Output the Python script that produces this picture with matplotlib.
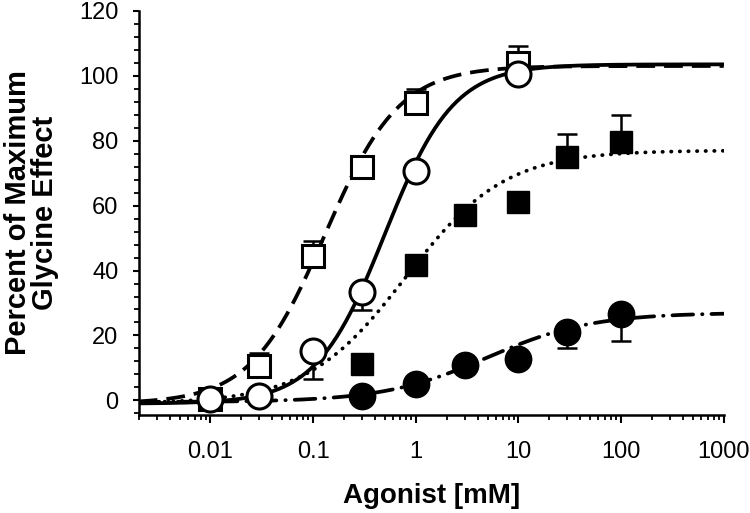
import numpy as np
import matplotlib
matplotlib.use('Agg')
import matplotlib.pyplot as plt
from matplotlib.ticker import LogLocator, FixedLocator, FuncFormatter, MultipleLocator

plt.rcParams['font.family'] = ['Liberation Sans', 'DejaVu Sans']

# data (concentration in mM, percent of max glycine effect)
x_open_sq = [0.01, 0.03, 0.1, 0.3, 1, 10]
y_open_sq = [0.5, 10.5, 44.5, 72, 91.5, 104]
err_open_sq = [0, 4, 4.5, 1.5, 4.5, 5]            # upper bars only

x_open_ci = [0.01, 0.03, 0.1, 0.3, 1, 10]
y_open_ci = [0.5, 1.5, 15.2, 33.5, 70.5, 100.5]
err_open_ci = [0, 0, 8.7, 5.8, 0, 0]              # lower bars only

x_fill_sq = [0.3, 1, 3, 10, 30, 100]
y_fill_sq = [11.2, 41.8, 57, 61, 75, 79.5]
err_fill_sq = [0, 0, 0, 0, 7, 8.5]                # upper bars only

x_fill_ci = [0.3, 1, 3, 10, 30, 100]
y_fill_ci = [1.5, 5.2, 10.8, 12.9, 21, 26.5]
err_fill_ci = [0, 0, 0, 0, 5, 8.3]                # lower bars only

# fitted Hill curves: bottom, top, EC50 (mM), slope
fit_open_sq = [-1.0, 103.0, 0.13, 1.2]
fit_open_ci = [-1.0, 103.5, 0.5, 1.3]
fit_fill_sq = [-1.0, 77.0, 0.8, 0.9]
fit_fill_ci = [-0.5, 27.0, 5.0, 0.85]

x_ticks = [0.01, 0.1, 1, 10, 100, 1000]
y_ticks = [0, 20, 40, 60, 80, 100, 120]


def hill(x, p):
    bot, top, ec50, n = p
    return bot + (top - bot) / (1 + (ec50 / x) ** n)


fig = plt.figure(figsize=(7.5, 5.13), dpi=100)
ax = fig.add_axes([0.185, 0.191, 0.780, 0.788])

xx = np.logspace(np.log10(0.002), 3, 400)
lw = 2.7
ax.plot(xx, hill(xx, fit_fill_ci), color='black', lw=lw,
        dashes=(5.5, 2.4, 0.1, 2.4), dash_capstyle='round', zorder=2)
ax.plot(xx, hill(xx, fit_fill_sq), color='black', lw=lw,
        dashes=(0.1, 2.2), dash_capstyle='round', zorder=2)
ax.plot(xx, hill(xx, fit_open_sq), color='black', lw=lw,
        dashes=(5, 2.4), zorder=2)
ax.plot(xx, hill(xx, fit_open_ci), color='black', lw=lw, zorder=2)

eb = dict(fmt='none', ecolor='black', elinewidth=1.8, capsize=7, capthick=1.8, zorder=3)
ax.errorbar(x_open_sq, y_open_sq, yerr=[np.zeros(6), err_open_sq], **eb)
ax.errorbar(x_open_ci, y_open_ci, yerr=[err_open_ci, np.zeros(6)], **eb)
ax.errorbar(x_fill_sq, y_fill_sq, yerr=[np.zeros(6), err_fill_sq], **eb)
ax.errorbar(x_fill_ci, y_fill_ci, yerr=[err_fill_ci, np.zeros(6)], **eb)

ax.plot(x_open_sq, y_open_sq, 's', ms=16, mfc='white', mec='black', mew=2.2, zorder=4)
ax.plot(x_open_ci, y_open_ci, 'o', ms=18, mfc='white', mec='black', mew=2.2, zorder=5)
ax.plot(x_fill_sq, y_fill_sq, 's', ms=16.5, mfc='black', mec='black', mew=1, zorder=4)
ax.plot(x_fill_ci, y_fill_ci, 'o', ms=19, mfc='black', mec='black', mew=1, zorder=4)

ax.set_xscale('log')
ax.set_xlim(0.002, 1000)
ax.set_ylim(-4.5, 120)

ax.xaxis.set_major_locator(FixedLocator(x_ticks))
ax.xaxis.set_minor_locator(LogLocator(base=10, subs=np.arange(2, 10), numticks=20))
ax.xaxis.set_major_formatter(FuncFormatter(lambda v, pos: '%g' % v))
ax.set_yticks(y_ticks)
ax.yaxis.set_minor_locator(MultipleLocator(4))

for side in ['top', 'right']:
    ax.spines[side].set_visible(False)
for side in ['left', 'bottom']:
    ax.spines[side].set_linewidth(1.8)

ax.tick_params(axis='both', which='major', direction='out', width=1.5, labelsize=17)
ax.tick_params(axis='x', which='major', length=6, pad=13)
ax.tick_params(axis='y', which='major', length=4, pad=10.5)
ax.tick_params(axis='both', which='minor', direction='out', width=1.3, length=3.5)

ax.set_xlabel('Agonist [mM]', fontsize=20, fontweight='bold', labelpad=14)
ax.set_ylabel('Percent of Maximum\nGlycine Effect', fontsize=21, fontweight='bold',
              linespacing=0.95)
ax.yaxis.set_label_coords(-0.136, 0.5)

fig.savefig('out.png', dpi=100)
